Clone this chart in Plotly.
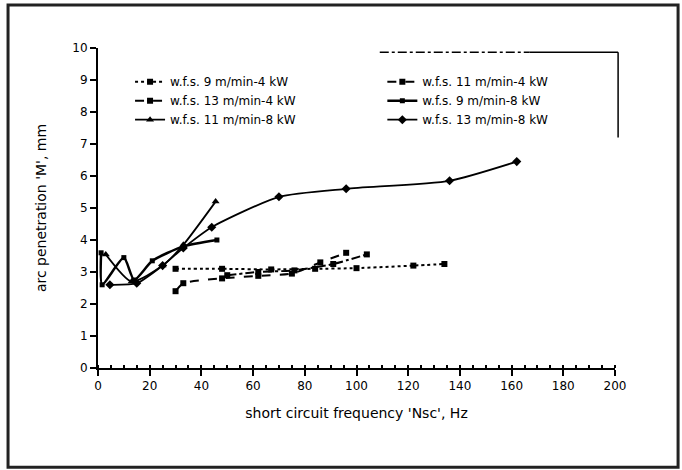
import plotly.graph_objects as go

# Arc penetration vs. short-circuit frequency for three wire feed speeds at 4 kW and 8 kW
names = [
    "w.f.s. 9 m/min-4 kW",
    "w.f.s. 11 m/min-4 kW",
    "w.f.s. 13 m/min-4 kW",
    "w.f.s. 9 m/min-8 kW",
    "w.f.s. 11 m/min-8 kW",
    "w.f.s. 13 m/min-8 kW",
]
# legend column for each series
legend_ids = ["legend", "legend2", "legend", "legend2", "legend", "legend2"]

freq_9_4 = [30, 48, 67, 84, 100, 122, 134]
pen_9_4 = [3.1, 3.1, 3.08, 3.1, 3.12, 3.2, 3.25]

freq_11_4 = [30, 33, 48, 62, 75, 86, 96]
pen_11_4 = [2.4, 2.65, 2.8, 2.88, 2.95, 3.3, 3.6]

freq_13_4 = [50, 62, 76, 91, 104]
pen_13_4 = [2.9, 3.0, 3.05, 3.25, 3.55]

freq_9_8 = [1.2, 1.6, 10, 14, 21, 33, 46]
pen_9_8 = [3.6, 2.6, 3.45, 2.75, 3.35, 3.8, 4.0]

freq_11_8 = [3, 13, 25, 33, 45.5]
pen_11_8 = [3.55, 2.7, 3.2, 3.85, 5.2]

freq_13_8 = [4.6, 15, 25, 33, 44, 70, 96, 136, 162]
pen_13_8 = [2.6, 2.65, 3.2, 3.75, 4.4, 5.35, 5.6, 5.85, 6.45]

series = [
    (freq_9_4, pen_9_4, "dot", "square", 6, 2),
    (freq_11_4, pen_11_4, "dash", "square", 6, 2),
    (freq_13_4, pen_13_4, "dashdot", "square", 6, 2),
    (freq_9_8, pen_9_8, "solid", "square", 5, 2.5),
    (freq_11_8, pen_11_8, "solid", "triangle-up", 7, 1.8),
    (freq_13_8, pen_13_8, "solid", "diamond", 7, 1.8),
]

fig = go.Figure()
for name, lg, (xs, ys, dash, sym, msize, lw) in zip(names, legend_ids, series):
    fig.add_trace(go.Scatter(
        x=xs, y=ys, name=name, mode="lines+markers", legend=lg,
        line=dict(color="black", width=lw, dash=dash, shape="spline", smoothing=0.6),
        marker=dict(color="black", symbol=sym, size=msize),
    ))

font_family = "DejaVu Sans, Arial, sans-serif"
legend_style = dict(
    orientation="v", xanchor="left", yanchor="top",
    font=dict(size=12), bgcolor="rgba(0,0,0,0)",
    itemwidth=30, tracegroupgap=0,
)

fig.update_layout(
    width=682, height=470,
    margin=dict(l=98, r=67, t=48, b=102),
    paper_bgcolor="white", plot_bgcolor="white",
    font=dict(family=font_family, color="black", size=12),
    showlegend=True,
    legend=dict(x=0.062, y=0.94, **legend_style),
    legend2=dict(x=0.55, y=0.94, **legend_style),
    xaxis=dict(
        range=[0, 200], dtick=20, tick0=0,
        showgrid=False, zeroline=False,
        showline=True, linecolor="black", linewidth=2,
        ticks="outside", ticklen=6, tickwidth=1.5, tickcolor="black",
        minor=dict(dtick=5, ticks="inside", ticklen=3, tickcolor="black", showgrid=False),
        tickfont=dict(size=12),
        title=dict(text="short circuit frequency 'Nsc', Hz", font=dict(size=14), standoff=16),
    ),
    yaxis=dict(
        range=[0, 10], dtick=1, tick0=0,
        showgrid=False, zeroline=False,
        showline=True, linecolor="black", linewidth=2,
        ticks="outside", ticklen=6, tickwidth=1.5, tickcolor="black",
        tickfont=dict(size=12),
        title=dict(text="arc penetration 'M', mm", font=dict(size=14), standoff=22),
    ),
)

# outer frame around the whole figure
fig.add_shape(type="rect", xref="paper", yref="paper",
              x0=-0.174, x1=1.122, y0=-0.31, y1=1.134,
              line=dict(color="#222", width=3), fillcolor="rgba(0,0,0,0)")

# legend box edges (top and right)
fig.add_shape(type="line", xref="paper", yref="paper",
              x0=0.545, x1=0.835, y0=0.987, y1=0.987,
              line=dict(color="black", width=1.5, dash="dashdot"))
fig.add_shape(type="line", xref="paper", yref="paper",
              x0=0.835, x1=1.006, y0=0.987, y1=0.987,
              line=dict(color="black", width=1.5))
fig.add_shape(type="line", xref="paper", yref="paper",
              x0=1.006, x1=1.006, y0=0.987, y1=0.72,
              line=dict(color="black", width=1.5))

fig.write_html("out.html")
